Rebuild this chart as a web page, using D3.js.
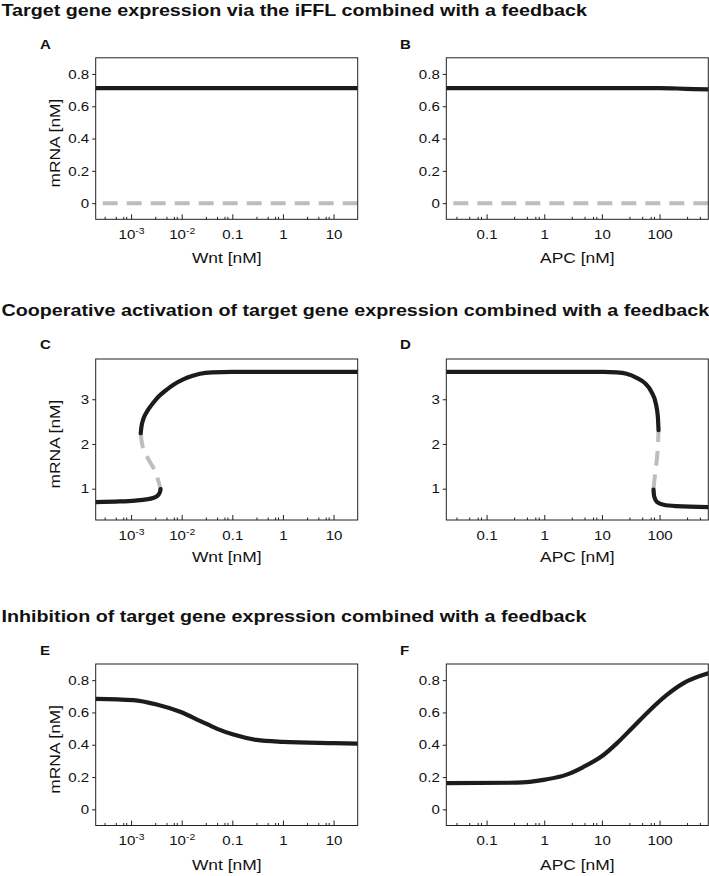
<!DOCTYPE html>
<html>
<head>
<meta charset="utf-8">
<script src="https://cdn.jsdelivr.net/npm/d3@7"></script>
<style>
html, body { margin: 0; padding: 0; background: #fff; }
svg { display: block; font-family: "Liberation Sans", Arial, Helvetica, sans-serif; }
</style>
</head>
<body>
<div id="main"></div>
<script>
// ---- values ----
const sectionTitles = [
    "Target gene expression via the iFFL combined with a feedback",
    "Cooperative activation of target gene expression combined with a feedback",
    "Inhibition of target gene expression combined with a feedback"
];
const panelLetters = ["A", "B", "C", "D", "E", "F"];
const xLabels = ["Wnt [nM]", "APC [nM]"];
const yLabel = "mRNA [nM]";

const wntDomain = [2e-4, 30];
const apcDomain = [0.02, 700];
const wntTicks = [1e-3, 1e-2, 0.1, 1, 10];
const wntTickLabels = ["10^-3", "10^-2", "0.1", "1", "10"];
const apcTicks = [0.1, 1, 10, 100];
const apcTickLabels = ["0.1", "1", "10", "100"];
const minorSteps = [3, 5, 7, 8];

const mrnaDomainSmall = [-0.1, 0.9];
const mrnaTicksSmall = [0, 0.2, 0.4, 0.6, 0.8];
const mrnaTickLabelsSmall = ["0", "0.2", "0.4", "0.6", "0.8"];
const mrnaDomainLarge = [0.3, 3.9];
const mrnaTicksLarge = [1, 2, 3];
const mrnaTickLabelsLarge = ["1", "2", "3"];

// A: iFFL, Wnt
const aStableWnt = [2e-4, 0.01, 30];
const aStableMrna = [0.712, 0.712, 0.712];
const aUnstableWnt = [2e-4, 30];
const aUnstableMrna = [0, 0];

// B: iFFL, APC
const bStableApc = [0.02, 1, 100, 200, 400, 700];
const bStableMrna = [0.712, 0.712, 0.712, 0.710, 0.706, 0.704];
const bUnstableApc = [0.02, 700];
const bUnstableMrna = [0, 0];

// C: cooperative, Wnt (bistable)
const cLowWnt = [2e-4, 6e-4, 1.2e-3, 2e-3, 2.7e-3, 3.2e-3, 3.55e-3, 3.75e-3, 3.82e-3];
const cLowMrna = [0.70, 0.715, 0.735, 0.76, 0.79, 0.83, 0.88, 0.94, 0.99];
const cMidWnt = [1.55e-3, 1.62e-3, 1.8e-3, 2.1e-3, 2.5e-3, 3.0e-3, 3.4e-3, 3.82e-3];
const cMidMrna = [2.24, 2.05, 1.87, 1.7, 1.55, 1.38, 1.2, 0.99];
const cHighWnt = [1.55e-3, 1.6e-3, 1.75e-3, 2.0e-3, 2.7e-3, 3.5e-3, 5e-3, 7e-3, 0.011, 0.016, 0.023, 0.04, 0.1, 30];
const cHighMrna = [2.24, 2.38, 2.56, 2.70, 2.91, 3.06, 3.21, 3.33, 3.45, 3.52, 3.57, 3.60, 3.61, 3.61];

// D: cooperative, APC (bistable)
const dHighApc = [0.02, 1, 10.5, 18, 26.7, 39.9, 55.6, 72.6, 86.1, 93.3, 95.9];
const dHighMrna = [3.61, 3.61, 3.61, 3.6, 3.57, 3.48, 3.36, 3.16, 2.9, 2.61, 2.31];
const dMidApc = [78.5, 80.5, 85, 90.7, 94, 95.9];
const dMidMrna = [0.98, 1.13, 1.42, 1.72, 2.0, 2.31];
const dLowApc = [78.5, 80.5, 90.7, 117, 197, 700];
const dLowMrna = [0.98, 0.83, 0.70, 0.64, 0.61, 0.59];

// E: inhibition, Wnt
const eWnt = [2e-4, 1.1e-3, 3.2e-3, 9.3e-3, 0.023, 0.049, 0.105, 0.3, 1, 10, 30];
const eMrna = [0.684, 0.676, 0.649, 0.604, 0.548, 0.50, 0.463, 0.43, 0.418, 0.41, 0.407];

// F: inhibition, APC
const fApc = [0.02, 0.33, 1.03, 2.44, 4.75, 10.5, 17.9, 34.8, 67.8, 132, 257, 700];
const fMrna = [0.163, 0.165, 0.184, 0.215, 0.262, 0.335, 0.407, 0.51, 0.614, 0.707, 0.78, 0.842];

// ---- layout ----
const W = 709, H = 876;
const k = 1.16;                 // horizontal text stretch
const colX = [95.7, 446.3];
const plotW = 262;
const rowY = [57.8, 359, 664];
const plotH = [161.5, 161, 161.5];
const titleY = [16, 316, 622];
const letterX = [40, 400];
const letterY = [48.5, 348.5, 655];
const xLabelOff = [44, 42, 44.5];

const zip = (a, b) => a.map((v, i) => [v, b[i]]);

const axesX = {
    wnt: { domain: wntDomain, ticks: wntTicks, labels: wntTickLabels, title: xLabels[0] },
    apc: { domain: apcDomain, ticks: apcTicks, labels: apcTickLabels, title: xLabels[1] }
};
const axesY = {
    small: { domain: mrnaDomainSmall, ticks: mrnaTicksSmall, labels: mrnaTickLabelsSmall },
    large: { domain: mrnaDomainLarge, ticks: mrnaTicksLarge, labels: mrnaTickLabelsLarge }
};

const panels = [
    { row: 0, col: 0, x: "wnt", y: "small", stable: [zip(aStableWnt, aStableMrna)], unstable: [zip(aUnstableWnt, aUnstableMrna)] },
    { row: 0, col: 1, x: "apc", y: "small", stable: [zip(bStableApc, bStableMrna)], unstable: [zip(bUnstableApc, bUnstableMrna)] },
    { row: 1, col: 0, x: "wnt", y: "large", stable: [zip(cLowWnt, cLowMrna), zip(cHighWnt, cHighMrna)], unstable: [zip(cMidWnt, cMidMrna)] },
    { row: 1, col: 1, x: "apc", y: "large", stable: [zip(dHighApc, dHighMrna), zip(dLowApc, dLowMrna)], unstable: [zip(dMidApc, dMidMrna)] },
    { row: 2, col: 0, x: "wnt", y: "small", stable: [zip(eWnt, eMrna)], unstable: [] },
    { row: 2, col: 1, x: "apc", y: "small", stable: [zip(fApc, fMrna)], unstable: [] }
];

function minorTicks(domain) {
    const out = [];
    const lo = Math.floor(Math.log10(domain[0])), hi = Math.ceil(Math.log10(domain[1]));
    for (let e = lo; e <= hi; e++) {
        minorSteps.forEach(function (m) {
            const v = m * Math.pow(10, e);
            if (v > domain[0] * 1.01 && v < domain[1] * 0.99) out.push(v);
        });
    }
    return out;
}

const svg = d3.select('#main').append('svg')
    .attr('width', W)
    .attr('height', H);

svg.append('rect').attr('width', W).attr('height', H).attr('fill', '#fff');

// section titles
svg.selectAll('.section-title')
    .data(sectionTitles)
    .enter()
    .append('text')
    .attr('class', 'section-title')
    .attr('transform', (d, i) => 'translate(1.5,' + titleY[i] + ') scale(' + k + ',1)')
    .attr('font-size', 17)
    .attr('font-weight', 'bold')
    .attr('fill', '#111')
    .text(d => d);

panels.forEach(function (p, idx) {
    const left = colX[p.col], top = rowY[p.row], h = plotH[p.row];
    const ax = axesX[p.x], ay = axesY[p.y];

    const xScale = d3.scaleLog().domain(ax.domain).range([0, plotW]);
    const yScale = d3.scaleLinear().domain(ay.domain).range([h, 0]);

    const g = svg.append('g').attr('transform', 'translate(' + left + ',' + top + ')');

    // panel letter
    svg.append('text')
        .attr('transform', 'translate(' + letterX[p.col] + ',' + letterY[p.row] + ') scale(' + k + ',1)')
        .attr('font-size', 13)
        .attr('font-weight', 'bold')
        .attr('fill', '#111')
        .text(panelLetters[idx]);

    const clipId = 'clip' + idx;
    g.append('clipPath').attr('id', clipId)
        .append('rect').attr('width', plotW).attr('height', h);

    const line = d3.line()
        .x(d => xScale(d[0]))
        .y(d => yScale(d[1]))
        .curve(d3.curveMonotoneX);

    const curves = g.append('g').attr('clip-path', 'url(#' + clipId + ')');

    curves.selectAll('.unstable')
        .data(p.unstable)
        .enter()
        .append('path')
        .attr('class', 'unstable')
        .attr('d', line)
        .attr('fill', 'none')
        .attr('stroke', '#bdbdbd')
        .attr('stroke-width', 4)
        .attr('stroke-dasharray', '15,9')
        .attr('stroke-dashoffset', p.row === 0 ? 17 : 0);

    curves.selectAll('.stable')
        .data(p.stable)
        .enter()
        .append('path')
        .attr('class', 'stable')
        .attr('d', line)
        .attr('fill', 'none')
        .attr('stroke', '#1c1c1c')
        .attr('stroke-width', 4.2)
        .attr('stroke-linecap', 'round');

    // x axis: major + minor ticks pointing inward
    const xMinor = g.append('g')
        .attr('transform', 'translate(0,' + h + ')')
        .call(d3.axisBottom(xScale).tickValues(minorTicks(ax.domain)).tickSizeInner(-2.5).tickSizeOuter(0).tickFormat(''));
    xMinor.select('.domain').remove();

    const xMajor = g.append('g')
        .attr('transform', 'translate(0,' + h + ')')
        .call(d3.axisBottom(xScale).tickValues(ax.ticks).tickSizeInner(-5).tickSizeOuter(0).tickPadding(10.5)
            .tickFormat((d, i) => ax.labels[i]));
    xMajor.select('.domain').remove();
    xMajor.selectAll('text')
        .attr('font-size', 13)
        .attr('fill', '#111')
        .attr('font-family', null)
        .attr('transform', 'scale(' + k + ',1)')
        .each(function (d, i) {
            const lab = ax.labels[i];
            if (lab.indexOf('^') < 0) return;
            const parts = lab.split('^');
            const t = d3.select(this).text('');
            t.append('tspan').text(parts[0]);
            t.append('tspan').attr('font-size', 9).attr('dy', '-5').text(parts[1]);
        });

    // y axis: outward ticks
    const yAxis = g.append('g')
        .call(d3.axisLeft(yScale).tickValues(ay.ticks).tickSizeInner(3.5).tickSizeOuter(0).tickPadding(3)
            .tickFormat((d, i) => ay.labels[i]));
    yAxis.select('.domain').remove();
    yAxis.selectAll('text')
        .attr('font-size', 13)
        .attr('fill', '#111')
        .attr('font-family', null)
        .attr('x', -6.5 / k)
        .attr('transform', 'scale(' + k + ',1)');

    g.selectAll('.tick line').attr('stroke', '#222');

    // frame
    g.append('rect')
        .attr('width', plotW)
        .attr('height', h)
        .attr('fill', 'none')
        .attr('stroke', '#222')
        .attr('stroke-width', 1);

    // x label
    g.append('text')
        .attr('transform', 'translate(' + (plotW / 2) + ',' + (h + xLabelOff[p.row]) + ') scale(' + k + ',1)')
        .attr('text-anchor', 'middle')
        .attr('font-size', 15)
        .attr('fill', '#111')
        .text(ax.title);

    // y label on left column only
    if (p.col === 0) {
        svg.append('text')
            .attr('transform', 'translate(59.5,' + (top + h / 2 + 4.5) + ') rotate(-90) scale(' + k + ',1)')
            .attr('text-anchor', 'middle')
            .attr('font-size', 15)
            .attr('fill', '#111')
            .text(yLabel);
    }
});
</script>
</body>
</html>
